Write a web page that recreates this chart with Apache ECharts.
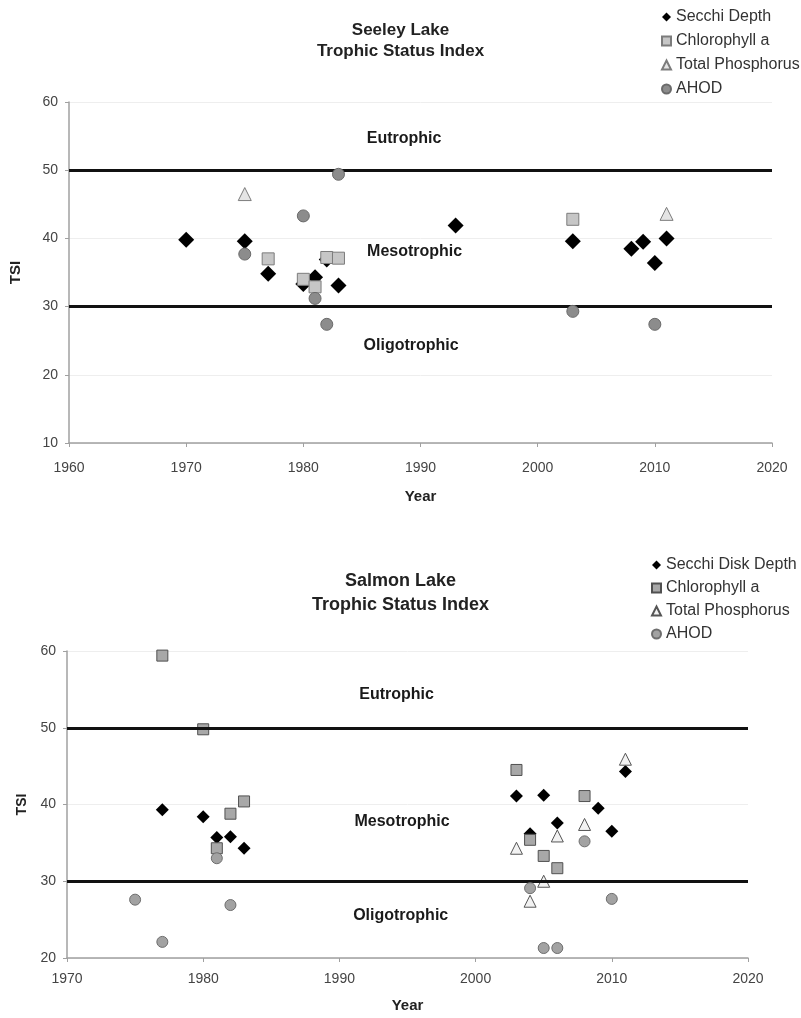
<!DOCTYPE html>
<html>
<head>
<meta charset="utf-8">
<script src="https://cdn.jsdelivr.net/npm/echarts@6/dist/echarts.min.js"></script>
<style>
  html, body { margin: 0; padding: 0; background: #fff; }
  #seeley { position: absolute; left: 0; top: 0; width: 801px; height: 510px; }
  #salmon { position: absolute; left: 0; top: 510px; width: 801px; height: 508px; }
</style>
</head>
<body>
<div id="seeley"></div>
<div id="salmon"></div>
<script>
// Trophic Status Index readings, [year, TSI]
const seeleySecchi = [[1970, 39.8], [1975, 39.6], [1977, 34.8], [1980, 33.3], [1981, 34.3], [1982, 36.9], [1983, 33.1], [1993, 41.9], [2003, 39.6], [2008, 38.5], [2009, 39.5], [2010, 36.4], [2011, 40.0]];
const seeleyChl = [[1977, 37.0], [1980, 34.0], [1981, 32.9], [1982, 37.2], [1983, 37.1], [2003, 42.8]];
const seeleyTP = [[1975, 46.5], [2011, 43.6]];
const seeleyAHOD = [[1975, 37.7], [1980, 43.3], [1981, 31.2], [1982, 27.4], [1983, 49.4], [2003, 29.3], [2010, 27.4]];

const salmonSecchi = [[1977, 39.3], [1980, 38.4], [1981, 35.7], [1982, 35.8], [1983, 34.3], [2003, 41.1], [2004, 36.2], [2005, 41.2], [2006, 37.6], [2009, 39.5], [2010, 36.5], [2011, 44.3]];
const salmonChl = [[1977, 59.4], [1980, 49.8], [1981, 34.3], [1982, 38.8], [1983, 40.4], [2003, 44.5], [2004, 35.4], [2005, 33.3], [2006, 31.7], [2008, 41.1]];
const salmonTP = [[2003, 34.3], [2004, 27.4], [2005, 30.0], [2006, 35.9], [2008, 37.4], [2011, 45.9]];
const salmonAHOD = [[1975, 27.6], [1977, 22.1], [1981, 33.0], [1982, 26.9], [2004, 29.1], [2005, 21.3], [2006, 21.3], [2008, 35.2], [2010, 27.7]];

// Trophic class boundaries and zone captions
const boundaries = [30, 50];
const seeleyZones = [
  { name: 'Eutrophic', value: [1988.6, 54.7] },
  { name: 'Mesotrophic', value: [1989.5, 38.0] },
  { name: 'Oligotrophic', value: [1989.2, 24.3] }
];
const salmonZones = [
  { name: 'Eutrophic', value: [1994.2, 54.3] },
  { name: 'Mesotrophic', value: [1994.6, 37.8] },
  { name: 'Oligotrophic', value: [1994.5, 25.5] }
];

const FONT = '"Liberation Sans", Arial, sans-serif';

function buildOption(cfg) {
  const boundaryLine = {
    silent: true,
    symbol: 'none',
    label: { show: false },
    lineStyle: { color: '#111', width: 3, type: 'solid', opacity: 1 },
    data: boundaries.map(v => ({ yAxis: v }))
  };
  const plain = v => String(v);
  return {
    animation: false,
    backgroundColor: '#fff',
    textStyle: { fontFamily: FONT },
    title: {
      text: cfg.title,
      left: 'center',
      top: cfg.titleTop,
      padding: 0,
      textStyle: { fontFamily: FONT, fontSize: cfg.titleSize, fontWeight: 'bold', color: '#222', lineHeight: cfg.titleLine }
    },
    legend: {
      orient: 'vertical',
      left: cfg.legendLeft,
      top: cfg.legendTop,
      padding: 0,
      itemWidth: 9,
      itemHeight: 9,
      itemGap: cfg.legendGap,
      selectedMode: false,
      textStyle: { fontFamily: FONT, fontSize: 16, color: '#333' },
      data: [
        { name: cfg.names[0], icon: 'diamond' },
        { name: cfg.names[1], icon: 'rect' },
        { name: cfg.names[2], icon: 'triangle' },
        { name: cfg.names[3], icon: 'circle' }
      ]
    },
    grid: cfg.grid,
    xAxis: {
      type: 'value',
      min: cfg.xMin, max: 2020, interval: 10,
      axisLine: { show: true, lineStyle: { color: '#a0a0a0', width: 1.5 } },
      axisTick: { show: true, inside: false, length: 4, lineStyle: { color: '#a0a0a0' } },
      axisLabel: { fontFamily: FONT, fontSize: 14, color: '#444', margin: cfg.xLabelMargin, formatter: plain },
      splitLine: { show: false },
      name: 'Year',
      nameLocation: 'middle',
      nameGap: cfg.xNameGap,
      nameTextStyle: { fontFamily: FONT, fontSize: 15, fontWeight: 'bold', color: '#222' }
    },
    yAxis: {
      type: 'value',
      min: cfg.yMin, max: 60, interval: 10,
      axisLine: { show: true, lineStyle: { color: '#a0a0a0', width: 1.5 } },
      axisTick: { show: true, inside: false, length: 4, lineStyle: { color: '#a0a0a0' } },
      axisLabel: { fontFamily: FONT, fontSize: 14, color: '#444', margin: 11, formatter: plain },
      splitLine: { show: true, lineStyle: { color: '#eeeeee', width: 1 } },
      name: 'TSI',
      nameLocation: 'middle',
      nameGap: cfg.yNameGap,
      nameTextStyle: { fontFamily: FONT, fontSize: cfg.yNameSize, fontWeight: 'bold', color: '#222' }
    },
    series: [
      {
        name: cfg.names[0], type: 'scatter', data: cfg.secchi,
        symbol: 'diamond', symbolSize: cfg.sizes[0],
        itemStyle: { color: '#000', opacity: 1 },
        markLine: boundaryLine, z: 2
      },
      {
        name: cfg.names[1], type: 'scatter', data: cfg.chl,
        symbol: 'rect', symbolSize: cfg.sizes[1],
        itemStyle: { color: cfg.chlFill, borderColor: cfg.chlBorder, borderWidth: 1, opacity: 1 }, z: 3
      },
      {
        name: cfg.names[2], type: 'scatter', data: cfg.tp,
        symbol: 'triangle', symbolSize: cfg.sizes[2],
        itemStyle: { color: cfg.tpFill, borderColor: cfg.tpBorder, borderWidth: 1, opacity: 1 }, z: 4
      },
      {
        name: cfg.names[3], type: 'scatter', data: cfg.ahod,
        symbol: 'circle', symbolSize: cfg.sizes[3],
        itemStyle: { color: cfg.ahodFill, borderColor: cfg.ahodBorder, borderWidth: 1, opacity: 1 }, z: 5
      },
      {
        name: 'zones', type: 'scatter', data: cfg.zones,
        symbolSize: 1, silent: true,
        itemStyle: { color: 'rgba(0,0,0,0)', opacity: 1 },
        label: {
          show: true, position: 'inside', formatter: '{b}',
          fontFamily: FONT, fontSize: 16, fontWeight: 'bold', color: '#1a1a1a'
        },
        z: 6
      }
    ]
  };
}

const seeleyChart = echarts.init(document.getElementById('seeley'), null, { renderer: 'canvas' });
seeleyChart.setOption(buildOption({
  title: 'Seeley Lake\nTrophic Status Index',
  titleTop: 20, titleSize: 17, titleLine: 21,
  legendLeft: 661, legendTop: 9, legendGap: 8,
  names: ['Secchi Depth', 'Chlorophyll a', 'Total Phosphorus', 'AHOD'],
  grid: { left: 68, top: 102, width: 704, height: 341 },
  xMin: 1960, yMin: 10,
  xLabelMargin: 18, xNameGap: 46, yNameGap: 46, yNameSize: 15,
  secchi: seeleySecchi, chl: seeleyChl, tp: seeleyTP, ahod: seeleyAHOD, zones: seeleyZones,
  sizes: [16, 12, 13, 12],
  chlFill: '#c6c6c6', chlBorder: '#7c7c7c',
  tpFill: '#e4e4e4', tpBorder: '#7c7c7c',
  ahodFill: '#8c8c8c', ahodBorder: '#6a6a6a'
}));

const salmonChart = echarts.init(document.getElementById('salmon'), null, { renderer: 'canvas' });
salmonChart.setOption(buildOption({
  title: 'Salmon Lake\nTrophic Status Index',
  titleTop: 59, titleSize: 18, titleLine: 24,
  legendLeft: 651, legendTop: 47, legendGap: 7,
  names: ['Secchi Disk Depth', 'Chlorophyll a', 'Total Phosphorus', 'AHOD'],
  grid: { left: 67, top: 141, width: 681, height: 314 },
  xMin: 1970, yMin: 20,
  xLabelMargin: 14, xNameGap: 40, yNameGap: 36, yNameSize: 14,
  secchi: salmonSecchi, chl: salmonChl, tp: salmonTP, ahod: salmonAHOD, zones: salmonZones,
  sizes: [13, 11, 12, 11],
  chlFill: '#a8a8a8', chlBorder: '#505050',
  tpFill: '#f2f2f2', tpBorder: '#555555',
  ahodFill: '#a2a2a2', ahodBorder: '#6e6e6e'
}));
</script>
</body>
</html>
